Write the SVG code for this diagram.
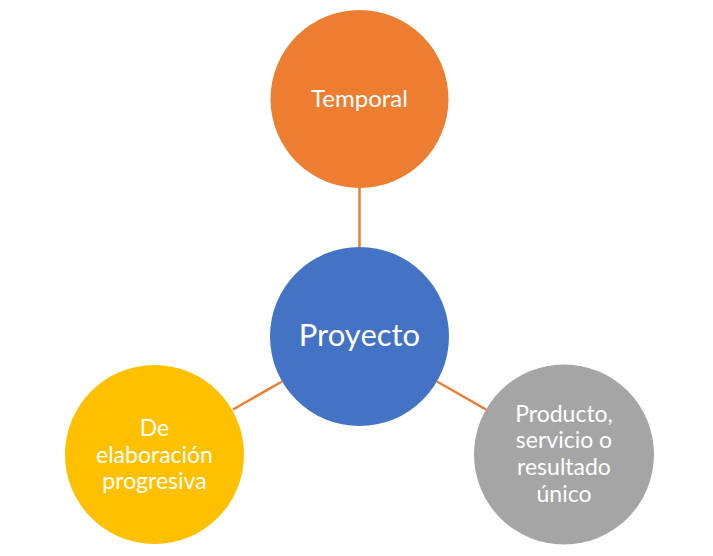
<svg xmlns="http://www.w3.org/2000/svg" width="713" height="556" viewBox="0 0 713 556">
<style>
.lbl{font-family:Lato,"Open Sans","Liberation Sans",sans-serif;fill:#fff;text-anchor:middle}
.s{font-size:23px}
.t{font-size:24px}
.b{font-size:31px}
.conn{stroke:#ED7D31;stroke-width:2.5;fill:none}
</style>
<rect width="713" height="556" fill="#fff"/>
<g id="connectors">
<line class="conn" x1="359.5" y1="188" x2="359.5" y2="247"/>
<line class="conn" x1="282" y1="381.5" x2="233" y2="409.5"/>
<line class="conn" x1="437" y1="381.5" x2="486" y2="409.5"/>
</g>
<g id="temporal">
<circle cx="359.5" cy="99" r="89" fill="#ED7D31"/>
<text class="lbl t" x="359.5" y="107">Temporal</text>
</g>
<g id="proyecto">
<circle cx="359.5" cy="336.5" r="89.5" fill="#4472C4"/>
<text class="lbl b" x="359.5" y="346">Proyecto</text>
</g>
<g id="elaboracion">
<circle cx="154.5" cy="454.5" r="89.5" fill="#FFC000"/>
<text class="lbl s" x="154.5" y="436">De</text>
<text class="lbl s" x="154.5" y="463">elaboración</text>
<text class="lbl s" x="154.5" y="489">progresiva</text>
</g>
<g id="producto">
<circle cx="564" cy="454.5" r="90" fill="#A5A5A5"/>
<text class="lbl s" x="564" y="422">Producto,</text>
<text class="lbl s" x="564" y="448">servicio o</text>
<text class="lbl s" x="564" y="475">resultado</text>
<text class="lbl s" x="564" y="502">único</text>
</g>
</svg>
